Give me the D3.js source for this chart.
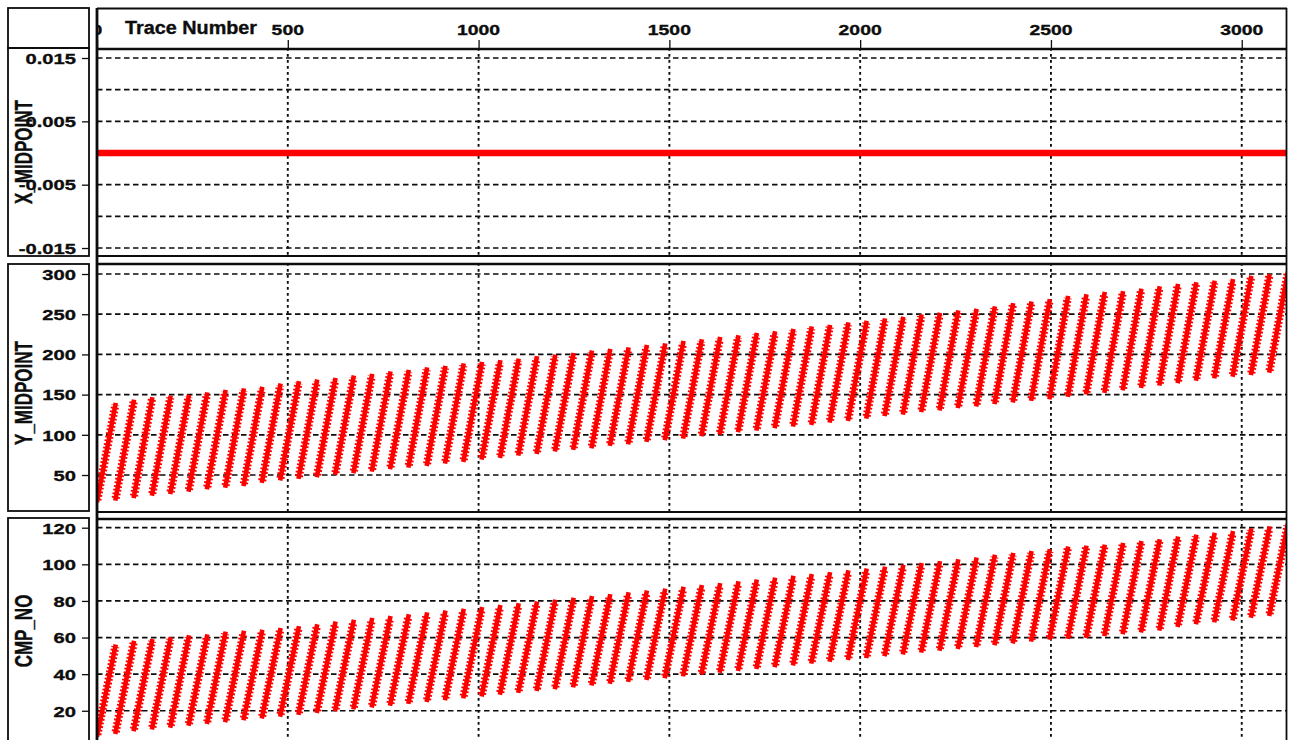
<!DOCTYPE html>
<html>
<head>
<meta charset="utf-8">
<script src="https://cdn.jsdelivr.net/npm/d3@7"></script>
<style>
  html, body { margin: 0; padding: 0; background: #fff; }
  svg { display: block; }
</style>
</head>
<body>
<svg id="chart" width="1290" height="740"></svg>
<script>
// ---- Trace-number axis ----
const traceTicks = [0, 500, 1000, 1500, 2000, 2500, 3000];
const traceMinorStep = 50;
const traceCount = 3116;
const tracesPerShot = 48;

// ---- X_MIDPOINT: constant zero along every trace ----
const xMidTraces = [1, 3116];
const xMidValues = [0, 0];
const xMidGrid = [0.015, 0.01, 0.005, -0.005, -0.01, -0.015];
const xMidTickValues = [0.015, 0.005, -0.005, -0.015];
const xMidTickLabels = ["0.015", "0.005", "-0.005", "-0.015"];

// ---- Y_MIDPOINT per shot: first channel and last channel ----
const yMidFirst = [19, 21, 24, 27, 29, 32, 35, 37, 39, 43, 46, 48, 50, 53, 55, 57, 60, 62, 64, 67,
  69, 72, 74, 77, 79, 82, 84, 86, 89, 91, 94, 96, 98, 101, 103, 106, 108, 111, 113, 115,
  118, 120, 123, 126, 128, 131, 133, 136, 138, 141, 143, 145, 147, 150, 153, 155, 158, 161, 164, 167,
  170, 173, 175, 177, 180];
const yMidLast = [137, 141, 144, 146, 147, 150, 153, 155, 157, 161, 164, 166, 168, 171, 173, 176, 178, 181, 183, 186,
  188, 190, 192, 195, 197, 199, 202, 204, 206, 209, 211, 214, 216, 219, 221, 224, 226, 229, 232, 234,
  237, 239, 242, 244, 247, 249, 252, 254, 257, 261, 263, 266, 270, 272, 275, 276, 279, 282, 285, 287,
  289, 291, 295, 297, 300];
const yMidTicks = [50, 100, 150, 200, 250, 300];

// ---- CMP_NO per shot: first channel and last channel ----
const cmpFirst = [7, 8.5, 10, 11, 12, 13, 14, 15, 16, 17, 18, 19, 20, 21, 22, 23, 24, 25, 26, 27,
  28, 29, 30, 31, 32, 33, 34, 35, 36, 37, 38, 39, 40, 41, 42, 43, 44, 45, 46, 47,
  48, 49, 50, 51, 52, 53, 54, 55, 56, 57, 58, 59, 60, 60.5, 61, 62, 63, 64, 65, 67,
  68.5, 69.5, 70.5, 72, 73];
const cmpLast = [55, 57, 58, 59, 60, 60.5, 62, 62.5, 63, 64, 65, 66, 67.5, 68.5, 69.5, 70.5, 71.5, 72.5, 73.5, 74.5,
  75.5, 76.5, 77.5, 78.5, 79.5, 80.5, 81.5, 82.5, 83.5, 84.5, 85.5, 86.5, 87.5, 88.5, 89.5, 90.5, 91.5, 92.5, 93.5, 94.5,
  95.5, 96.5, 97.5, 98.5, 99.5, 100.5, 101.5, 102.5, 104, 105, 106, 107, 108.5, 109, 109.5, 110.5, 111.5, 112.5, 114, 115,
  116, 117, 118.5, 119.5, 121];
const cmpTicks = [20, 40, 60, 80, 100, 120];

// ---- layout ----
const svg = d3.select("#chart");
const plotL = 97, plotR = 1286;
const boxL = 8, boxR = 89;
const NUM_FONT = "'Liberation Sans', Arial, sans-serif";
const INK = "#0d0d0d";
const RED = "#ff0000";

const x = d3.scaleLinear().domain([0, traceCount]).range([plotL, plotR]);

// Wide bold text, drawn as real text but stretched horizontally
function wideText(parent, str, px, py, anchor, size, stretch, family) {
  const t = parent.append("text")
    .attr("x", px).attr("y", py)
    .attr("font-family", family || NUM_FONT)
    .attr("font-weight", "bold")
    .attr("font-size", size)
    .attr("fill", INK)
    .attr("stroke", INK).attr("stroke-width", 0.35)
    .text(str);
  const w = t.node().getComputedTextLength() * stretch;
  const x0 = anchor === "end" ? px - w : anchor === "middle" ? px - w / 2 : px;
  t.attr("x", x0).attr("textLength", w).attr("lengthAdjust", "spacingAndGlyphs");
  return t;
}

const panels = [
  { id: "xmid", title: "X_MIDPOINT", top: 48, bottom: 256, boxTop: 48, boxBottom: 256,
    domain: [-0.01626, 0.01658], grid: xMidGrid, tickValues: xMidTickValues, tickLabels: xMidTickLabels,
    minorStep: 0.0025, titleY: 152 },
  { id: "ymid", title: "Y_MIDPOINT", top: 263, bottom: 512, boxTop: 264, boxBottom: 511,
    domain: [4, 313.7], grid: yMidTicks, tickValues: yMidTicks, tickLabels: yMidTicks.map(String),
    minorStep: 5, titleY: 393 },
  { id: "cmp", title: "CMP_NO", top: 518, bottom: 745, boxTop: 518, boxBottom: 745,
    domain: [1.3, 125.3], grid: cmpTicks, tickValues: cmpTicks, tickLabels: cmpTicks.map(String),
    minorStep: 2, titleY: 631 }
];

const defs = svg.append("defs");

panels.forEach(p => {
  p.y = d3.scaleLinear().domain(p.domain).range([p.bottom, p.top]);
  defs.append("clipPath").attr("id", "clip-" + p.id)
    .append("rect").attr("x", plotL).attr("y", p.top)
    .attr("width", plotR - plotL).attr("height", p.bottom - p.top);

  const g = svg.append("g");

  // grid: horizontal dashed at value ticks, vertical dotted at trace ticks
  const grid = g.append("g").attr("clip-path", `url(#clip-${p.id})`);
  grid.selectAll("line.h").data(p.grid).join("line")
    .attr("class", "h")
    .attr("x1", plotL).attr("x2", plotR)
    .attr("y1", d => p.y(d)).attr("y2", d => p.y(d))
    .attr("stroke", INK).attr("stroke-width", 1.7)
    .attr("stroke-dasharray", "5.5 3.5");
  grid.selectAll("line.v").data(traceTicks.filter(t => t > 0)).join("line")
    .attr("class", "v")
    .attr("x1", d => x(d)).attr("x2", d => x(d))
    .attr("y1", p.top).attr("y2", p.bottom)
    .attr("stroke", INK).attr("stroke-width", 1.9)
    .attr("stroke-dasharray", "2.8 3.2");

  p.marks = g.append("g").attr("clip-path", `url(#clip-${p.id})`);

  // panel frame
  g.append("line").attr("x1", plotL).attr("x2", plotR + 1)
    .attr("y1", p.top + 1).attr("y2", p.top + 1)
    .attr("stroke", INK).attr("stroke-width", 2.4);
  g.append("line").attr("x1", plotL).attr("x2", plotR + 1)
    .attr("y1", p.bottom).attr("y2", p.bottom)
    .attr("stroke", INK).attr("stroke-width", 1.8);

  // label box with the value axis on its right edge
  g.append("rect").attr("x", boxL).attr("y", p.boxTop)
    .attr("width", boxR - boxL).attr("height", p.boxBottom - p.boxTop)
    .attr("fill", "none").attr("stroke", INK).attr("stroke-width", 1.8);

  const yMin = Math.ceil(p.domain[0] / p.minorStep);
  const yMax = Math.floor(p.domain[1] / p.minorStep);
  const minor = d3.range(yMin, yMax + 1).map(k => +(k * p.minorStep).toFixed(6));
  const axisG = g.append("g").attr("transform", `translate(${boxR},0)`);
  axisG.call(d3.axisLeft(p.y).tickValues(minor).tickSize(3).tickFormat(""));
  axisG.call(d3.axisLeft(p.y).tickValues(p.tickValues).tickSize(7).tickFormat(""));
  axisG.selectAll(".domain").remove();
  axisG.selectAll(".tick line").attr("stroke", INK).attr("stroke-width", 1.3);

  p.tickValues.forEach((v, i) => {
    wideText(g, p.tickLabels[i], 76, p.y(v) + 5.8, "end", 15.5, 1.3);
  });

  // rotated title
  const tg = g.append("g").attr("transform", `translate(32,${p.titleY}) scale(1.45,1) rotate(-90)`);
  tg.append("text").attr("x", 0).attr("y", 0)
    .attr("text-anchor", "middle")
    .attr("font-family", NUM_FONT).attr("font-weight", "bold").attr("font-size", 17)
    .attr("fill", INK).attr("stroke", INK).attr("stroke-width", 0.3)
    .text(p.title);
});

// ---- marks ----
// X_MIDPOINT line
const px = panels[0];
px.marks.append("path")
  .datum(xMidTraces.map((t, i) => [t, xMidValues[i]]))
  .attr("d", d3.line().x(d => x(d[0])).y(d => px.y(d[1])))
  .attr("fill", "none").attr("stroke", RED).attr("stroke-width", 6.5);

// Per-shot streaks of "+" markers from first to last channel
function drawShots(p, first, last) {
  const segs = first.map((v, i) => [
    [i * tracesPerShot + 1, v],
    [(i + 1) * tracesPerShot, last[i]]
  ]);
  const line = d3.line().x(d => x(d[0])).y(d => p.y(d[1]));
  p.marks.append("g").selectAll("path").data(segs).join("path")
    .attr("d", line)
    .attr("fill", "none").attr("stroke", RED)
    .attr("stroke-width", 8.2).attr("stroke-dasharray", "1.8 1.9");
  p.marks.append("g").selectAll("path").data(segs).join("path")
    .attr("d", line)
    .attr("fill", "none").attr("stroke", RED)
    .attr("stroke-width", 4.6).attr("stroke-linecap", "square");
}
drawShots(panels[1], yMidFirst, yMidLast);
drawShots(panels[2], cmpFirst, cmpLast);

// ---- header: trace axis ----
const head = svg.append("g");
head.append("rect").attr("x", boxL).attr("y", 8).attr("width", boxR - boxL).attr("height", 40)
  .attr("fill", "none").attr("stroke", INK).attr("stroke-width", 1.8);
head.append("line").attr("x1", plotL).attr("x2", plotR + 1).attr("y1", 8.5).attr("y2", 8.5)
  .attr("stroke", INK).attr("stroke-width", 1.8);

const traceMinor = d3.range(0, traceCount, traceMinorStep);
const topAxis = head.append("g").attr("transform", "translate(0,48)");
topAxis.call(d3.axisTop(x).tickValues(traceMinor).tickSize(4).tickFormat(""));
topAxis.call(d3.axisTop(x).tickValues(traceTicks).tickSize(8).tickFormat(""));
topAxis.selectAll(".domain").remove();
topAxis.selectAll(".tick line").attr("stroke", INK).attr("stroke-width", 1.3);

defs.append("clipPath").attr("id", "clip-head")
  .append("rect").attr("x", plotL).attr("y", 8).attr("width", plotR - plotL).attr("height", 40);
const headLabels = head.append("g").attr("clip-path", "url(#clip-head)");
traceTicks.forEach(t => {
  wideText(headLabels, String(t), x(t), 35, "middle", 15.5, 1.25);
});
wideText(head, "Trace Number", 125, 33.5, "start", 18, 1.1);

// outer frame lines that run through all panels
svg.append("line").attr("x1", plotL).attr("x2", plotL).attr("y1", 8).attr("y2", 740)
  .attr("stroke", INK).attr("stroke-width", 2.8);
svg.append("line").attr("x1", plotR + 0.5).attr("x2", plotR + 0.5).attr("y1", 8).attr("y2", 740)
  .attr("stroke", INK).attr("stroke-width", 1.8);
</script>
</body>
</html>
